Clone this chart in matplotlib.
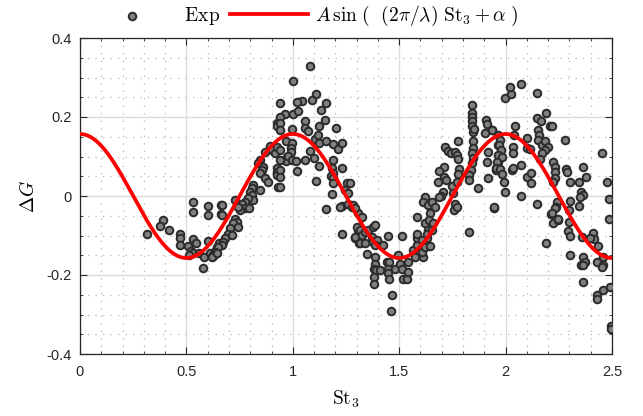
import numpy as np
import matplotlib
matplotlib.use("Agg")
import matplotlib.pyplot as plt
from matplotlib.ticker import MultipleLocator

# experimental points (St3, dG)
exp_pts = [
    (0.316, -0.097), (0.392, -0.060), (0.377, -0.076), (0.420, -0.085), (0.470, -0.095),
    (0.470, -0.107), (0.470, -0.124), (0.509, -0.127), (0.533, -0.014), (0.533, -0.040),
    (0.600, -0.025), (0.600, -0.048), (0.661, -0.023), (0.661, -0.046), (0.533, -0.110),
    (0.545, -0.118), (0.520, -0.140), (0.533, -0.144), (0.514, -0.150), (0.561, -0.144),
    (0.583, -0.154), (0.580, -0.182), (0.600, -0.114), (0.611, -0.144), (0.623, -0.152),
    (0.639, -0.137), (0.645, -0.129), (0.655, -0.120), (0.634, -0.147),
    (0.924, 0.186), (0.924, 0.176), (0.970, 0.138), (0.972, 0.100), (0.968, 0.089),
    (0.893, 0.127), (0.900, 0.117), (0.915, 0.108), (0.924, 0.125), (0.869, 0.112),
    (0.846, 0.091), (0.838, 0.083), (0.859, 0.074), (0.853, 0.066), (0.846, 0.058),
    (0.869, 0.045), (0.885, 0.036), (0.924, 0.070), (0.924, 0.062), (0.924, 0.053),
    (0.932, 0.024), (0.846, 0.015), (0.814, 0.028), (0.807, 0.019), (0.799, 0.011),
    (0.807, 0.003), (0.814, -0.010), (0.791, -0.006), (0.775, -0.014), (0.760, -0.019),
    (0.775, -0.031), (0.795, -0.031), (0.752, -0.036), (0.744, -0.027), (0.728, -0.010),
    (0.666, -0.023), (0.666, -0.048), (0.728, -0.057), (0.736, -0.065), (0.720, -0.069),
    (0.744, -0.078), (0.705, -0.082), (0.697, -0.095), (0.713, -0.099), (0.681, -0.107),
    (0.673, -0.116), (0.666, -0.124), (0.650, -0.129), (0.634, -0.141), (0.626, -0.150),
    (0.618, -0.154), (0.642, -0.145),
    (1.081, 0.328), (1.002, 0.290), (1.109, 0.259), (1.089, 0.244), (1.042, 0.241),
    (1.021, 0.237), (1.156, 0.235), (1.131, 0.217), (0.963, 0.207), (1.002, 0.207),
    (1.026, 0.214), (1.057, 0.189), (1.057, 0.172), (1.073, 0.165), (1.151, 0.193),
    (1.125, 0.176), (1.203, 0.173), (0.995, 0.169), (1.104, 0.144), (1.120, 0.155),
    (1.125, 0.134), (1.156, 0.140), (1.187, 0.131), (1.214, 0.119), (1.230, 0.134),
    (0.995, 0.134), (0.990, 0.121), (0.990, 0.112), (0.979, 0.102), (0.995, 0.091),
    (1.015, 0.089), (1.081, 0.114), (1.057, 0.091), (1.101, 0.096), (1.125, 0.076),
    (1.021, 0.063), (1.190, 0.091), (1.183, 0.070), (1.190, 0.058), (1.178, 0.051),
    (1.187, 0.045), (1.187, 0.034), (1.230, 0.070), (1.109, 0.039), (1.253, 0.034),
    (1.245, 0.015), (1.261, 0.007), (1.183, 0.005), (1.230, -0.025), (1.222, -0.027),
    (1.261, -0.021), (1.277, -0.027), (1.308, -0.044), (1.156, -0.034), (1.230, -0.096),
    (1.292, -0.106), (1.308, -0.086), (1.313, -0.120),
    (0.940, 0.235), (0.940, 0.201), (0.940, 0.185), (0.940, 0.168), (0.940, 0.117),
    (0.940, 0.091), (0.940, 0.066), (0.940, 0.049), (0.940, 0.024),
    (1.269, 0.032), (1.284, -0.023), (1.292, -0.031), (1.324, -0.052), (1.300, -0.078),
    (1.316, -0.086), (1.292, -0.103), (1.324, -0.099), (1.339, -0.091), (1.355, -0.086),
    (1.316, -0.120), (1.339, -0.120), (1.378, -0.078), (1.386, -0.074), (1.371, -0.103),
    (1.378, -0.116), (1.394, -0.112), (1.386, -0.124), (1.425, -0.123), (1.449, -0.102),
    (1.512, -0.102), (1.350, -0.148), (1.386, -0.154), (1.386, -0.171), (1.382, -0.184),
    (1.391, -0.188), (1.382, -0.205), (1.382, -0.224), (1.410, -0.188), (1.441, -0.167),
    (1.453, -0.167), (1.449, -0.184), (1.449, -0.196), (1.453, -0.209), (1.480, -0.186),
    (1.465, -0.251), (1.460, -0.291), (1.496, -0.150), (1.504, -0.171), (1.512, -0.184),
    (1.520, -0.209), (1.535, -0.209), (1.543, -0.192), (1.543, -0.167), (1.566, -0.137),
    (1.574, -0.154), (1.582, -0.124), (1.582, -0.107), (1.582, -0.096), (1.613, -0.154),
    (1.605, -0.141), (1.621, -0.129), (1.582, -0.052), (1.621, -0.002), (1.613, -0.014),
    (1.637, -0.023), (1.645, -0.044), (1.645, -0.065), (1.621, -0.069), (1.637, -0.086),
    (1.629, -0.107), (1.605, -0.112),
    (1.841, 0.231), (1.841, 0.210), (1.841, 0.200), (1.844, 0.189), (1.841, 0.178),
    (1.845, 0.163), (1.852, 0.169), (1.845, 0.138), (1.845, 0.121), (1.841, 0.108),
    (1.845, 0.096), (1.841, 0.083), (1.836, 0.066), (1.830, 0.053), (1.830, 0.041),
    (1.908, 0.193), (1.911, 0.183), (1.935, 0.166), (1.903, 0.159), (1.919, 0.112),
    (1.911, 0.085), (1.919, 0.045), (1.966, 0.129), (1.966, 0.087), (1.955, 0.066),
    (1.945, -0.030), (1.872, 0.020), (1.830, -0.092), (1.774, 0.140), (1.715, 0.125),
    (1.731, 0.114), (1.742, 0.108), (1.762, 0.112), (1.770, 0.104), (1.778, 0.093),
    (1.711, 0.073), (1.689, 0.063), (1.711, 0.049), (1.720, 0.041), (1.684, 0.036),
    (1.747, 0.025), (1.708, 0.011), (1.695, 0.000), (1.689, -0.002), (1.755, 0.008),
    (1.783, 0.068), (1.778, 0.055), (1.770, 0.036), (1.652, -0.014), (1.668, -0.027),
    (1.762, -0.019), (1.758, -0.036), (1.770, -0.027), (1.642, -0.061), (1.660, -0.069),
    (1.629, -0.096), (1.652, -0.085), (1.645, -0.127),
    (1.997, 0.249), (2.024, 0.259), (2.021, 0.276), (2.072, 0.284), (2.149, 0.261),
    (2.190, 0.211), (2.209, 0.176), (2.149, 0.197), (2.165, 0.189), (2.154, 0.166),
    (2.158, 0.155), (2.154, 0.142), (2.170, 0.129), (2.185, 0.138), (2.201, 0.124),
    (2.185, 0.117), (2.170, 0.108), (2.162, 0.093), (2.224, 0.087), (2.232, 0.074),
    (2.232, 0.062), (2.232, 0.045), (2.224, 0.036), (1.934, 0.168), (1.966, 0.155),
    (1.974, 0.142), (1.971, 0.129), (1.977, 0.117), (1.966, 0.104), (1.982, 0.098),
    (1.961, 0.087), (1.955, 0.070), (1.974, 0.068), (1.982, 0.056), (1.992, 0.036),
    (1.997, 0.009), (2.029, 0.066), (2.036, 0.070), (2.036, 0.124), (2.036, 0.108),
    (2.044, 0.178), (2.039, 0.155), (2.071, 0.079), (2.071, 0.000), (2.099, 0.146),
    (2.099, 0.121), (2.115, 0.118), (2.102, 0.049), (2.118, 0.059), (2.118, 0.034),
    (2.149, -0.020), (1.945, -0.029), (2.240, -0.014), (2.237, -0.027), (2.212, -0.046),
    (2.224, -0.068), (2.248, -0.061), (2.190, -0.118),
    (2.217, 0.178), (2.279, 0.142), (2.451, 0.108), (2.284, 0.068), (2.290, 0.062),
    (2.362, 0.073), (2.378, 0.049), (2.346, 0.036), (2.302, 0.036), (2.478, 0.036),
    (2.353, 0.011), (2.362, 0.003), (2.350, -0.002), (2.346, -0.025), (2.302, -0.012),
    (2.299, -0.036), (2.232, -0.031), (2.248, -0.057), (2.217, -0.044), (2.299, -0.065),
    (2.295, -0.088), (2.302, -0.102), (2.357, -0.103), (2.404, -0.103), (2.411, -0.093),
    (2.415, -0.110), (2.397, -0.107), (2.487, -0.008), (2.487, -0.059), (2.436, -0.127),
    (2.302, -0.150), (2.362, -0.154), (2.373, -0.167), (2.353, -0.175), (2.366, -0.175),
    (2.428, -0.167), (2.456, -0.154), (2.459, -0.175), (2.451, -0.179), (2.366, -0.217),
    (2.428, -0.251), (2.431, -0.262), (2.456, -0.239), (2.491, -0.230), (2.494, -0.330),
    (2.496, -0.336),
]
exp_st3 = [p[0] for p in exp_pts]
exp_dg = [p[1] for p in exp_pts]

# fit parameters
amp_A = 0.157
wavelength = 1.0
phase_alpha = np.pi / 2

xticks = [0, 0.5, 1, 1.5, 2, 2.5]
xticklabels = ["0", "0.5", "1", "1.5", "2", "2.5"]
yticks = [-0.4, -0.2, 0, 0.2, 0.4]
yticklabels = ["-0.4", "-0.2", "0", "0.2", "0.4"]

plt.rcParams["mathtext.fontset"] = "cm"
plt.rcParams["font.family"] = ["Liberation Sans", "DejaVu Sans"]

fig = plt.figure(figsize=(6.43, 4.16), dpi=100)
ax = fig.add_axes([80 / 643, 1 - 354 / 416, 532 / 643, 316 / 416])

ax.set_xlim(0, 2.5)
ax.set_ylim(-0.4, 0.4)
ax.xaxis.set_minor_locator(MultipleLocator(0.1))
ax.yaxis.set_minor_locator(MultipleLocator(0.05))
ax.grid(True, which="major", color="#dcdcdc", lw=1.0, ls="-")
ax.grid(True, which="minor", color="#b4b4b4", lw=0.9, ls=(0, (1, 5)))
ax.set_axisbelow(True)

xs = np.linspace(0, 2.5, 400)
fit = amp_A * np.sin(2 * np.pi / wavelength * xs + phase_alpha)

ax.scatter(exp_st3, exp_dg, s=30, facecolor="#7f7f7f", edgecolor="#2b2b2b",
           linewidths=1.4, zorder=3, label=r"$\ \mathrm{Exp}$")
ax.plot(xs, fit, color="#ff0000", lw=2.7, zorder=4,
        label=r"$A\,\sin\,(\ \ (2\pi/\lambda)\ \mathrm{St}_3+\alpha\ )$")

ax.set_xticks(xticks)
ax.set_xticklabels(xticklabels)
ax.set_yticks(yticks)
ax.set_yticklabels(yticklabels)
ax.tick_params(which="both", direction="in", top=True, right=True,
               colors="#262626", labelsize=10.5)
ax.tick_params(which="major", length=5, width=0.8)
ax.tick_params(which="minor", length=2.5, width=0.6)
ax.tick_params(axis="x", pad=8)
ax.tick_params(axis="y", pad=6)
for sp in ax.spines.values():
    sp.set_color("#262626")
    sp.set_linewidth(0.9)

ax.set_xlabel(r"$\mathrm{St}_3$", fontsize=14, labelpad=7)
ax.set_ylabel(r"$\Delta G$", fontsize=14, labelpad=6)

leg = ax.legend(loc="lower center", bbox_to_anchor=(0.425, 0.995), ncol=2,
                frameon=False, fontsize=14, handlelength=4.0, handletextpad=0.4,
                columnspacing=0.5, borderaxespad=0.2, markerscale=1.0)

fig.savefig("out.png", dpi=100)
